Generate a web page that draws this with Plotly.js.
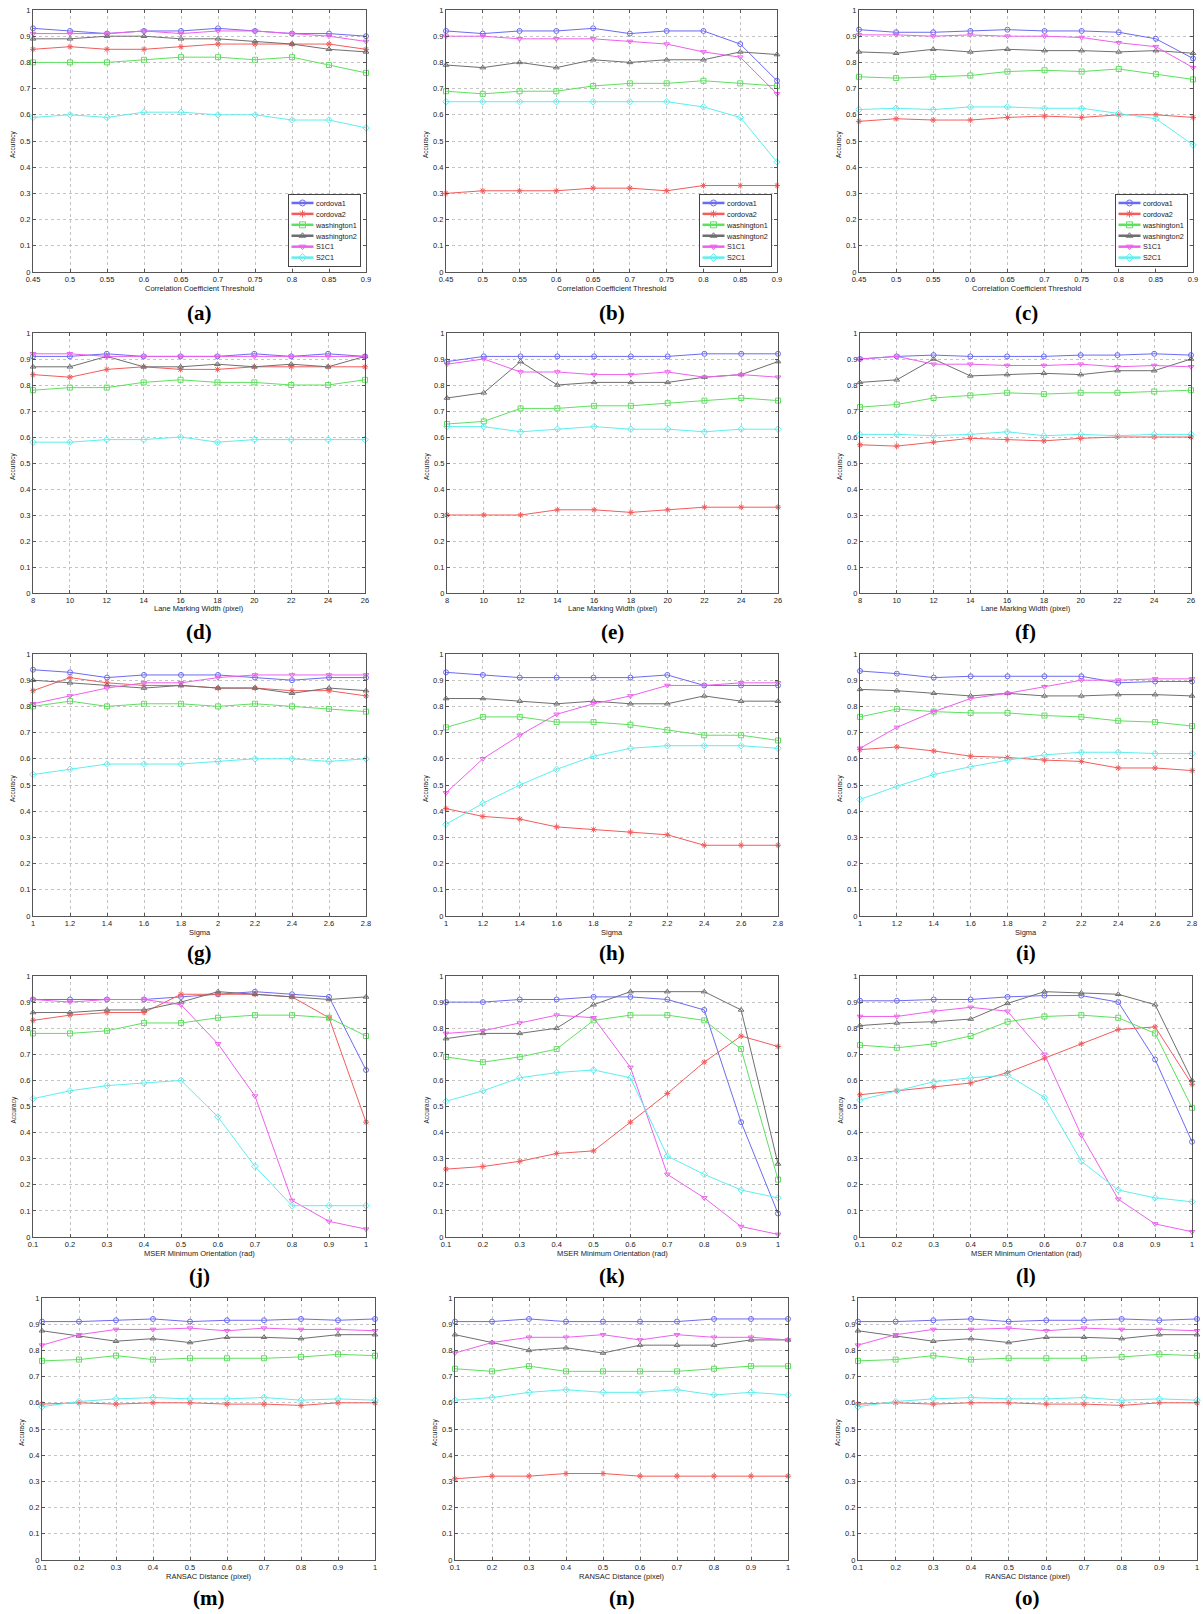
<!DOCTYPE html>
<html><head><meta charset="utf-8">
<script src="https://cdn.plot.ly/plotly-3.0.1.min.js"></script>
<style>html,body{margin:0;padding:0;background:#fff}#chart{width:1203px;height:1614px}</style>
</head><body><div id="chart"></div>
<script>
// ---------- DATA ----------
const seriesNames = ['cordova1','cordova2','washington1','washington2','S1C1','S2C1'];

const xCorr   = [0.45,0.5,0.55,0.6,0.65,0.7,0.75,0.8,0.85,0.9];
const xWidth  = [8,10,12,14,16,18,20,22,24,26];
const xSigma  = [1,1.2,1.4,1.6,1.8,2,2.2,2.4,2.6,2.8];
const xOrient = [0.1,0.2,0.3,0.4,0.5,0.6,0.7,0.8,0.9,1];
const xRansac = [0.1,0.2,0.3,0.4,0.5,0.6,0.7,0.8,0.9,1];

const yTickVals = [0,0.1,0.2,0.3,0.4,0.5,0.6,0.7,0.8,0.9,1];
const yTickText = ['0','0.1','0.2','0.3','0.4','0.5','0.6','0.7','0.8','0.9','1'];

// rows: cordova1, cordova2, washington1, washington2, S1C1, S2C1
const panelA = [
 [0.93,0.92,0.91,0.92,0.92,0.93,0.92,0.91,0.91,0.90],
 [0.85,0.86,0.85,0.85,0.86,0.87,0.87,0.87,0.87,0.85],
 [0.80,0.80,0.80,0.81,0.82,0.82,0.81,0.82,0.79,0.76],
 [0.89,0.89,0.90,0.90,0.89,0.89,0.88,0.87,0.85,0.84],
 [0.91,0.91,0.91,0.92,0.91,0.92,0.92,0.91,0.90,0.88],
 [0.59,0.60,0.59,0.61,0.61,0.60,0.60,0.58,0.58,0.55]];
const panelB = [
 [0.92,0.91,0.92,0.92,0.93,0.91,0.92,0.92,0.87,0.73],
 [0.30,0.31,0.31,0.31,0.32,0.32,0.31,0.33,0.33,0.33],
 [0.69,0.68,0.69,0.69,0.71,0.72,0.72,0.73,0.72,0.71],
 [0.79,0.78,0.80,0.78,0.81,0.80,0.81,0.81,0.84,0.83],
 [0.90,0.90,0.89,0.89,0.89,0.88,0.87,0.84,0.82,0.68],
 [0.65,0.65,0.65,0.65,0.65,0.65,0.65,0.63,0.59,0.42]];
const panelC = [
 [0.925,0.915,0.915,0.92,0.925,0.92,0.92,0.915,0.89,0.815],
 [0.575,0.585,0.58,0.58,0.59,0.595,0.59,0.60,0.60,0.59],
 [0.745,0.74,0.745,0.75,0.765,0.77,0.765,0.775,0.755,0.735],
 [0.84,0.835,0.85,0.84,0.85,0.845,0.845,0.84,0.845,0.835],
 [0.905,0.905,0.90,0.905,0.90,0.90,0.895,0.875,0.86,0.78],
 [0.62,0.625,0.62,0.63,0.63,0.625,0.625,0.605,0.585,0.485]];
const panelD = [
 [0.91,0.91,0.92,0.91,0.91,0.91,0.92,0.91,0.92,0.91],
 [0.84,0.83,0.86,0.87,0.86,0.86,0.87,0.87,0.87,0.87],
 [0.78,0.79,0.79,0.81,0.82,0.81,0.81,0.80,0.80,0.82],
 [0.87,0.87,0.91,0.87,0.87,0.88,0.87,0.88,0.87,0.91],
 [0.92,0.92,0.91,0.91,0.91,0.91,0.91,0.91,0.91,0.91],
 [0.58,0.58,0.59,0.59,0.60,0.58,0.59,0.59,0.59,0.59]];
const panelE = [
 [0.89,0.91,0.91,0.91,0.91,0.91,0.91,0.92,0.92,0.92],
 [0.30,0.30,0.30,0.32,0.32,0.31,0.32,0.33,0.33,0.33],
 [0.65,0.66,0.71,0.71,0.72,0.72,0.73,0.74,0.75,0.74],
 [0.75,0.77,0.89,0.80,0.81,0.81,0.81,0.83,0.84,0.89],
 [0.88,0.90,0.85,0.85,0.84,0.84,0.85,0.83,0.84,0.83],
 [0.64,0.64,0.62,0.63,0.64,0.63,0.63,0.62,0.63,0.63]];
const panelF = [
 [0.90,0.91,0.915,0.91,0.91,0.91,0.915,0.915,0.92,0.915],
 [0.57,0.565,0.58,0.595,0.59,0.585,0.595,0.60,0.60,0.60],
 [0.715,0.725,0.75,0.76,0.77,0.765,0.77,0.77,0.775,0.78],
 [0.81,0.82,0.90,0.835,0.84,0.845,0.84,0.855,0.855,0.90],
 [0.90,0.91,0.88,0.88,0.875,0.875,0.88,0.87,0.875,0.87],
 [0.61,0.61,0.605,0.61,0.62,0.605,0.61,0.605,0.61,0.61]];
const panelG = [
 [0.94,0.93,0.91,0.92,0.92,0.92,0.91,0.90,0.91,0.91],
 [0.86,0.91,0.89,0.88,0.88,0.87,0.87,0.86,0.86,0.84],
 [0.80,0.82,0.80,0.81,0.81,0.80,0.81,0.80,0.79,0.78],
 [0.90,0.89,0.88,0.87,0.88,0.87,0.87,0.85,0.87,0.86],
 [0.81,0.84,0.87,0.89,0.89,0.91,0.92,0.92,0.92,0.92],
 [0.54,0.56,0.58,0.58,0.58,0.59,0.60,0.60,0.59,0.60]];
const panelH = [
 [0.93,0.92,0.91,0.91,0.91,0.91,0.92,0.88,0.88,0.88],
 [0.41,0.38,0.37,0.34,0.33,0.32,0.31,0.27,0.27,0.27],
 [0.72,0.76,0.76,0.74,0.74,0.73,0.71,0.69,0.69,0.67],
 [0.83,0.83,0.82,0.81,0.82,0.81,0.81,0.84,0.82,0.82],
 [0.47,0.60,0.69,0.77,0.81,0.84,0.88,0.88,0.89,0.89],
 [0.35,0.43,0.50,0.56,0.61,0.64,0.65,0.65,0.65,0.64]];
const panelI = [
 [0.935,0.925,0.91,0.915,0.915,0.915,0.915,0.89,0.895,0.895],
 [0.635,0.645,0.63,0.61,0.605,0.595,0.59,0.565,0.565,0.555],
 [0.76,0.79,0.78,0.775,0.775,0.765,0.76,0.745,0.74,0.725],
 [0.865,0.86,0.85,0.84,0.85,0.84,0.84,0.845,0.845,0.84],
 [0.64,0.72,0.78,0.83,0.85,0.875,0.90,0.90,0.905,0.905],
 [0.445,0.495,0.54,0.57,0.595,0.615,0.625,0.625,0.62,0.62]];
const panelJ = [
 [0.91,0.91,0.91,0.91,0.92,0.93,0.94,0.93,0.92,0.64],
 [0.83,0.85,0.86,0.86,0.93,0.93,0.93,0.92,0.84,0.44],
 [0.78,0.78,0.79,0.82,0.82,0.84,0.85,0.85,0.84,0.77],
 [0.86,0.86,0.87,0.87,0.90,0.94,0.93,0.92,0.91,0.92],
 [0.91,0.90,0.91,0.91,0.89,0.74,0.54,0.14,0.06,0.03],
 [0.53,0.56,0.58,0.59,0.60,0.46,0.27,0.12,0.12,0.12]];
const panelK = [
 [0.90,0.90,0.91,0.91,0.92,0.92,0.91,0.87,0.44,0.09],
 [0.26,0.27,0.29,0.32,0.33,0.44,0.55,0.67,0.77,0.73],
 [0.69,0.67,0.69,0.72,0.83,0.85,0.85,0.83,0.72,0.22],
 [0.76,0.78,0.78,0.80,0.89,0.94,0.94,0.94,0.87,0.28],
 [0.78,0.79,0.82,0.85,0.84,0.65,0.24,0.15,0.04,0.01],
 [0.52,0.56,0.61,0.63,0.64,0.61,0.31,0.24,0.18,0.15]];
const panelL = [
 [0.905,0.905,0.91,0.91,0.92,0.925,0.925,0.90,0.68,0.365],
 [0.545,0.56,0.575,0.59,0.63,0.685,0.74,0.795,0.805,0.585],
 [0.735,0.725,0.74,0.77,0.825,0.845,0.85,0.84,0.78,0.495],
 [0.81,0.82,0.825,0.835,0.895,0.94,0.935,0.93,0.89,0.60],
 [0.845,0.845,0.865,0.88,0.865,0.70,0.39,0.145,0.05,0.02],
 [0.525,0.56,0.595,0.61,0.62,0.535,0.29,0.18,0.15,0.135]];
const panelM = [
 [0.91,0.91,0.915,0.92,0.91,0.915,0.915,0.92,0.915,0.92],
 [0.595,0.60,0.595,0.60,0.60,0.595,0.595,0.59,0.60,0.60],
 [0.76,0.765,0.78,0.765,0.77,0.77,0.77,0.775,0.785,0.78],
 [0.875,0.855,0.835,0.845,0.83,0.85,0.85,0.845,0.86,0.86],
 [0.82,0.86,0.88,0.88,0.885,0.875,0.885,0.88,0.88,0.875],
 [0.585,0.605,0.615,0.62,0.615,0.615,0.62,0.61,0.615,0.61]];
const panelN = [
 [0.91,0.91,0.92,0.91,0.91,0.91,0.91,0.92,0.92,0.92],
 [0.31,0.32,0.32,0.33,0.33,0.32,0.32,0.32,0.32,0.32],
 [0.73,0.72,0.74,0.72,0.72,0.72,0.72,0.73,0.74,0.74],
 [0.86,0.83,0.80,0.81,0.79,0.82,0.82,0.82,0.84,0.84],
 [0.79,0.83,0.85,0.85,0.86,0.84,0.86,0.85,0.85,0.84],
 [0.61,0.62,0.64,0.65,0.64,0.64,0.65,0.63,0.64,0.63]];
const panelO = [
 [0.91,0.91,0.915,0.92,0.91,0.915,0.915,0.92,0.915,0.92],
 [0.595,0.60,0.595,0.60,0.60,0.595,0.595,0.59,0.60,0.60],
 [0.76,0.765,0.78,0.765,0.77,0.77,0.77,0.775,0.785,0.78],
 [0.875,0.855,0.835,0.845,0.83,0.85,0.85,0.845,0.86,0.86],
 [0.82,0.86,0.88,0.88,0.885,0.875,0.885,0.88,0.88,0.875],
 [0.585,0.605,0.615,0.62,0.615,0.615,0.62,0.61,0.615,0.61]];

// ---------- STYLE / LAYOUT ----------
const W = 1203, H = 1614;
const colors  = ['#6b6bf2','#f25c5c','#5ee05e','#6f6f6f','#ee5fee','#5eeeee'];
const symbols = ['circle-open','asterisk-open','square-open','triangle-up-open','triangle-down-open','diamond-open'];
const sans = 'Liberation Sans, Arial, sans-serif';
const LEGEND_SCALE = 0.5;

const panels = [
 {lab:'(a)', x:xCorr,   v:panelA, t:'Correlation Coefficient Threshold', box:[33,366,10,272],   leg:'legend'},
 {lab:'(b)', x:xCorr,   v:panelB, t:'Correlation Coefficient Threshold', box:[446,777,10,272],  leg:'legend2'},
 {lab:'(c)', x:xCorr,   v:panelC, t:'Correlation Coefficient Threshold', box:[859,1193,10,272], leg:'legend3'},
 {lab:'(d)', x:xWidth,  v:panelD, t:'Lane Marking Width (pixel)', box:[33,365,333,593]},
 {lab:'(e)', x:xWidth,  v:panelE, t:'Lane Marking Width (pixel)', box:[447,778,333,593]},
 {lab:'(f)', x:xWidth,  v:panelF, t:'Lane Marking Width (pixel)', box:[860,1191,333,593]},
 {lab:'(g)', x:xSigma,  v:panelG, t:'Sigma', box:[33,366,654,916]},
 {lab:'(h)', x:xSigma,  v:panelH, t:'Sigma', box:[446,778,654,916]},
 {lab:'(i)', x:xSigma,  v:panelI, t:'Sigma', box:[860,1192,654,916]},
 {lab:'(j)', x:xOrient, v:panelJ, t:'MSER Minimum Orientation (rad)', box:[33,366,976,1237]},
 {lab:'(k)', x:xOrient, v:panelK, t:'MSER Minimum Orientation (rad)', box:[446,778,976,1237]},
 {lab:'(l)', x:xOrient, v:panelL, t:'MSER Minimum Orientation (rad)', box:[860,1192,976,1237]},
 {lab:'(m)', x:xRansac, v:panelM, t:'RANSAC Distance (pixel)', box:[42,375,1298,1560]},
 {lab:'(n)', x:xRansac, v:panelN, t:'RANSAC Distance (pixel)', box:[455,788,1298,1560]},
 {lab:'(o)', x:xRansac, v:panelO, t:'RANSAC Distance (pixel)', box:[858,1197,1298,1560]}
];

const traces = [];
const layout = {
  width: W, height: H,
  margin: {l:0, r:0, t:0, b:0},
  paper_bgcolor: '#ffffff', plot_bgcolor: '#ffffff',
  showlegend: true,
  font: {family: sans, size: 8, color: '#222'},
  annotations: []
};

const px = v => v / W;
const py = v => 1 - v / H;

panels.forEach((p, i) => {
  const n = i + 1;
  const xa = n === 1 ? 'x' : 'x' + n;
  const ya = n === 1 ? 'y' : 'y' + n;
  const [l, r, t, b] = p.box;
  const axBase = {
    showline: true, linecolor: '#555', linewidth: 1, mirror: 'ticks',
    ticks: 'inside', ticklen: 3, tickcolor: '#555', tickwidth: 1,
    showgrid: true, gridcolor: '#c4c4c4', griddash: 'dot', gridwidth: 1,
    zeroline: false, fixedrange: true, automargin: false,
    tickfont: {family: sans, size: 7.5, color: '#222'}
  };
  layout[n === 1 ? 'xaxis' : 'xaxis' + n] = Object.assign({}, axBase, {
    domain: [px(l), px(r)], anchor: ya,
    range: [p.x[0], p.x[p.x.length - 1]],
    tickmode: 'array', tickvals: p.x, ticktext: p.x.map(v => String(v))
  });
  layout[n === 1 ? 'yaxis' : 'yaxis' + n] = Object.assign({}, axBase, {
    domain: [py(b), py(t)], anchor: xa,
    range: [0, 1],
    tickmode: 'array', tickvals: yTickVals, ticktext: yTickText
  });

  p.v.forEach((ys, s) => {
    traces.push({
      type: 'scatter', mode: 'lines+markers',
      x: p.x, y: ys, xaxis: xa, yaxis: ya,
      name: seriesNames[s],
      showlegend: !!p.leg, legend: p.leg || 'legend',
      cliponaxis: false,
      line: {color: colors[s], width: 1},
      marker: {symbol: symbols[s], size: 5, color: colors[s], line: {color: colors[s], width: 1}}
    });
  });

  if (p.leg) {
    layout[p.leg] = {
      x: px(r - 4), y: py(b - 4), xanchor: 'right', yanchor: 'bottom',
      xref: 'paper', yref: 'paper',
      bgcolor: '#ffffff', bordercolor: '#444', borderwidth: 2,
      font: {family: sans, size: 14.5, color: '#222'},
      tracegroupgap: 0, itemwidth: 44, itemsizing: 'constant'
    };
  }

  // x-axis title
  layout.annotations.push({
    text: p.t, xref: 'paper', yref: 'paper',
    x: px((l + r) / 2), y: py(b + 16), xanchor: 'center', yanchor: 'middle',
    showarrow: false, font: {family: sans, size: 7.5, color: '#222'}
  });
  // y-axis title
  layout.annotations.push({
    text: 'Accuracy', xref: 'paper', yref: 'paper', textangle: -90,
    x: px(l - 20), y: py((t + b) / 2 + 4), xanchor: 'center', yanchor: 'middle',
    showarrow: false, font: {family: sans, size: 6.5, color: '#222'}
  });
  // panel label
  const labY = [313, 632, 953, 1276, 1598][Math.floor(i / 3)];
  layout.annotations.push({
    text: '<b>' + p.lab + '</b>', xref: 'paper', yref: 'paper',
    x: px((l + r) / 2), y: py(labY), xanchor: 'center', yanchor: 'middle',
    showarrow: false, font: {family: 'Liberation Serif, Times New Roman, serif', size: 21, color: '#000'}
  });
});

Plotly.newPlot('chart', traces, layout, {staticPlot: true, displayModeBar: false}).then(gd => {
  // shrink the legends (anchored at their bottom-right corner) to the compact size of the original
  const s = LEGEND_SCALE;
  gd.querySelectorAll('g.infolayer > g').forEach(g => {
    const cls = (g.getAttribute('class') || '').split(' ')[0];
    if (!/^legend\d*$/.test(cls)) return;
    const tr = g.getAttribute('transform') || '';
    const m = tr.match(/translate\(\s*([-\d.e]+)[\s,]+([-\d.e]+)\s*\)/);
    const bg = g.querySelector('rect.bg');
    if (!m || !bg) return;
    const x = +m[1], y = +m[2];
    const w = +bg.getAttribute('width'), h = +bg.getAttribute('height');
    g.setAttribute('transform', 'translate(' + (x + w * (1 - s)) + ',' + (y + h * (1 - s)) + ') scale(' + s + ')');
  });
});
</script>
</body></html>
